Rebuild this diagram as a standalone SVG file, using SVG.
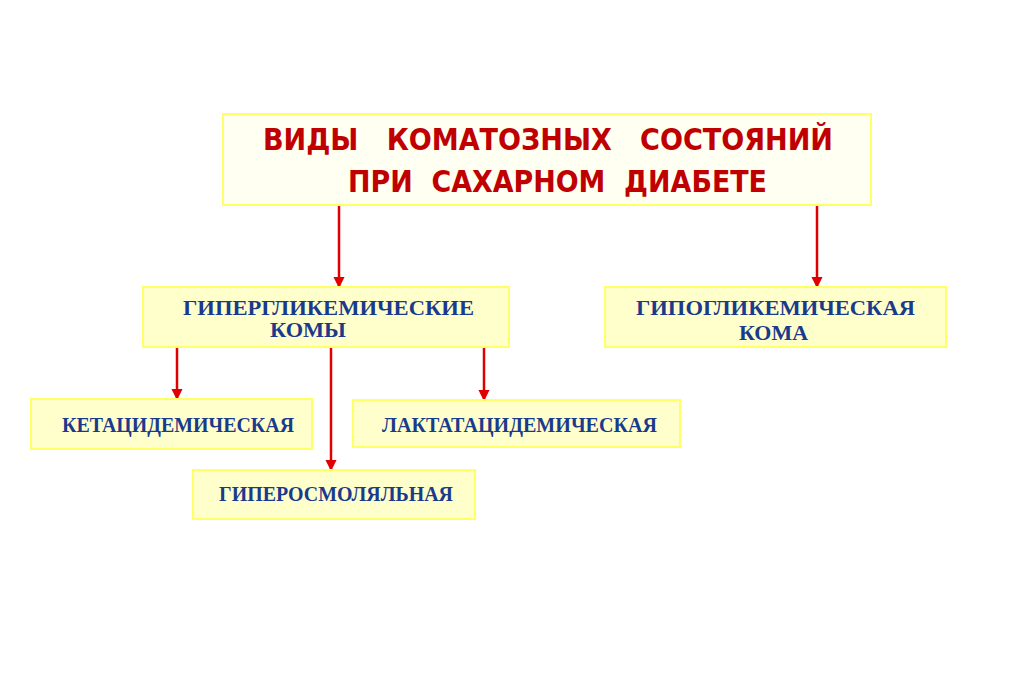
<svg xmlns="http://www.w3.org/2000/svg" width="1024" height="683" viewBox="0 0 1024 683">
<style>
.box{fill:#FFFFCC;stroke:#FFFF66;stroke-width:2}
.top{fill:#FFFFF2;stroke:#FFFF66;stroke-width:2}
.title{font-family:"DejaVu Sans Condensed","DejaVu Sans","Liberation Sans",sans-serif;font-weight:bold;font-size:30px;fill:#C00000;white-space:pre}
.lbl{font-family:"Liberation Serif","Times New Roman",serif;font-weight:bold;font-size:21px;fill:#1A3A8C}
.conn{stroke:#E00000;stroke-width:2.5;fill:none;marker-end:url(#ah)}
</style>
<defs>
<marker id="ah" viewBox="0 0 10 10" refX="9" refY="5" markerWidth="4.5" markerHeight="4.5" orient="auto" markerUnits="strokeWidth">
<path d="M0,0 L10,5 L0,10 z" fill="#E00000"/>
</marker>
</defs>
<rect width="1024" height="683" fill="#FFFFFF"/>
<g id="connectors">
<line class="conn" x1="339" y1="206" x2="339" y2="287"/>
<line class="conn" x1="817" y1="206" x2="817" y2="287"/>
<line class="conn" x1="177" y1="348" x2="177" y2="399"/>
<line class="conn" x1="331" y1="348" x2="331" y2="470"/>
<line class="conn" x1="484" y1="348" x2="484" y2="400"/>
</g>
<g id="node-title">
<rect class="top" x="223" y="114" width="648" height="91"/>
<text class="title" x="263" y="150" textLength="570" lengthAdjust="spacingAndGlyphs" xml:space="preserve">ВИДЫ   КОМАТОЗНЫХ   СОСТОЯНИЙ</text>
<text class="title" x="348" y="192" textLength="419" lengthAdjust="spacingAndGlyphs" xml:space="preserve">ПРИ  САХАРНОМ  ДИАБЕТЕ</text>
</g>
<g id="node-hyper">
<rect class="box" x="143" y="287" width="366" height="60"/>
<text class="lbl" x="183" y="315" textLength="291" lengthAdjust="spacingAndGlyphs">ГИПЕРГЛИКЕМИЧЕСКИЕ</text>
<text class="lbl" x="270" y="337" textLength="76" lengthAdjust="spacingAndGlyphs">КОМЫ</text>
</g>
<g id="node-hypo">
<rect class="box" x="605" y="287" width="341" height="60"/>
<text class="lbl" x="636" y="315" textLength="279" lengthAdjust="spacingAndGlyphs">ГИПОГЛИКЕМИЧЕСКАЯ</text>
<text class="lbl" x="739" y="340" textLength="69" lengthAdjust="spacingAndGlyphs">КОМА</text>
</g>
<g id="node-keto">
<rect class="box" x="31" y="399" width="281" height="50"/>
<text class="lbl" x="62" y="432" textLength="232" lengthAdjust="spacingAndGlyphs">КЕТАЦИДЕМИЧЕСКАЯ</text>
</g>
<g id="node-lact">
<rect class="box" x="353" y="400" width="327" height="47"/>
<text class="lbl" x="382" y="432" textLength="275" lengthAdjust="spacingAndGlyphs">ЛАКТАТАЦИДЕМИЧЕСКАЯ</text>
</g>
<g id="node-hyperosm">
<rect class="box" x="193" y="470" width="282" height="49"/>
<text class="lbl" x="219" y="501" textLength="234" lengthAdjust="spacingAndGlyphs">ГИПЕРОСМОЛЯЛЬНАЯ</text>
</g>
</svg>
